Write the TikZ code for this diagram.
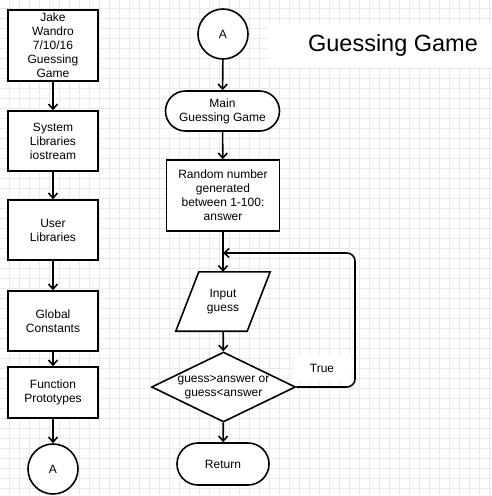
\documentclass[tikz,border=0pt]{standalone}
\usepackage{fontspec}
\setmainfont{Liberation Sans}
\usetikzlibrary{arrows.meta,shapes.geometric,shapes.misc}
\definecolor{gridc}{RGB}{232,232,250}
\begin{document}
\begin{tikzpicture}[x=1pt,y=-1pt,
  every node/.style={font=\fontsize{12}{14}\selectfont, align=center, inner sep=0pt},
  box/.style={draw, line width=1.6pt, rectangle, fill=white},
  term/.style={draw, line width=1.6pt, rounded rectangle, fill=white},
  conn/.style={draw, line width=1.6pt, circle, fill=white, minimum size=50pt},
  io/.style={rectangle, minimum width=94pt, minimum height=59pt},
  dec/.style={draw, line width=1.6pt, diamond, aspect=2.05, fill=white},
  arr/.style={line width=1.6pt, -{Straight Barb[length=5pt,width=9pt,line width=1.6pt]}},
  lbl/.style={fill=white}]
\useasboundingbox (0,0) rectangle (492,496);
\fill[white] (0,0) rectangle (492,496);
\foreach \x in {9.5,19.5,...,489.5} \draw[gridc, line width=0.8pt] (\x,0) -- (\x,496);
\foreach \y in {8.5,18.5,...,488.5} \draw[gridc, line width=0.8pt] (0,\y) -- (492,\y);
\fill[white] (268,24) rectangle (492,67);
\node (title) at (393,45) {\fontsize{23.5}{28}\selectfont Guessing Game};

% left column
\node[box, minimum width=90pt, minimum height=71pt] (b1) at (53,45.5) {Jake\\Wandro\\7/10/16\\Guessing\\Game};
\node[box, minimum width=90pt, minimum height=60pt] (b2) at (53,141) {System\\Libraries\\iostream};
\node[box, minimum width=90pt, minimum height=60pt] (b3) at (53,230) {User\\Libraries};
\node[box, minimum width=90pt, minimum height=60pt] (b4) at (53,321) {Global\\Constants};
\node[box, minimum width=90pt, minimum height=51pt] (b5) at (53,392.5) {Function\\Prototypes};
\node[conn] (a2) at (53,469) {A};
\draw[arr] (b1) -- (b2);
\draw[arr] (b2) -- (b3);
\draw[arr] (b3) -- (b4);
\draw[arr] (b4) -- (b5);
\draw[arr] (b5) -- (a2);

% right column
\node[conn] (a1) at (223,34) {A};
\node[term, minimum width=114pt, minimum height=40pt] (main) at (222.5,111) {Main\\Guessing Game};
\node[box, minimum width=113pt, minimum height=71pt] (rand) at (223,195.5) {Random number\\generated\\between 1-100:\\answer};
\node[io] (inp) at (223,301.5) {};
\draw[line width=1.6pt, fill=white, line join=miter]
  ([xshift=23pt]inp.north west) -- (inp.north east) -- ([xshift=-23pt]inp.south east) -- (inp.south west) -- cycle;
\node at (inp.center) {Input\\guess};
\node[dec, minimum width=144pt, minimum height=70pt] (dec) at (223.5,387) {guess>answer or\\guess<answer};
\node[term, minimum width=92pt, minimum height=42pt] (ret) at (223,464) {Return};
\coordinate (lp) at (223,253);
\draw[arr] (a1) -- (main);
\draw[arr] (main) -- (rand);
\draw[arr] (rand) -- (inp);
\draw[arr] (inp) -- (dec);
\draw[arr] (dec) -- (ret);
\draw[arr, rounded corners=8pt] (dec.east) -- (355,387) -- (355,253) -- (lp);
\node[lbl, minimum width=58pt, minimum height=26pt] (tl) at (322,368) {True};
\end{tikzpicture}
\end{document}
